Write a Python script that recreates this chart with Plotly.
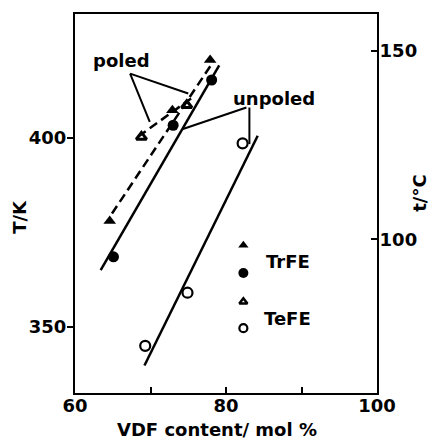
import plotly.graph_objects as go

# ---------------- data ----------------
# VDF content (mol %) and transition temperature T (K)
trfe_poled_x = [64.6, 72.9, 77.9]
trfe_poled_T = [378.0, 407.4, 420.7]
trfe_unpoled_x = [65.1, 73.0, 78.1]
trfe_unpoled_T = [368.5, 403.4, 415.4]
tefe_poled_x = [68.8, 74.8]
tefe_poled_T = [400.3, 408.7]
tefe_unpoled_x = [69.3, 74.9, 82.2]
tefe_unpoled_T = [344.9, 359.0, 398.6]

# drawn fit lines (end points)
fit_trfe_unpoled_x = [63.4, 79.1]
fit_trfe_unpoled_T = [365.0, 419.3]
fit_trfe_poled_x = [64.9, 78.3]
fit_trfe_poled_T = [380.0, 420.2]
fit_tefe_poled_x = [68.4, 75.5]
fit_tefe_poled_T = [400.4, 410.7]
fit_tefe_unpoled_x = [69.2, 84.2]
fit_tefe_unpoled_T = [339.7, 400.6]

# legend keys
legend_x = [82.3]
legend_T = {"trfe_poled": 371.6, "trfe_unpoled": 364.2,
            "tefe_poled": 356.6, "tefe_unpoled": 349.6}

x_ticks = [60, 70, 80, 90, 100]
x_ticktext = ["60", "", "80", "", "100"]
T_ticks = [350, 400]
t_ticks = [100, 150]

x_range = [60, 100]
T_range = [332.4, 432.9]
K0 = 273.15

FONT = dict(family="DejaVu Sans", size=18, color="black", weight="bold")
LW = 2.5

fig = go.Figure()

def line(x, y, dash="solid"):
    fig.add_trace(go.Scatter(x=x, y=y, mode="lines",
                             line=dict(color="black", width=LW, dash=dash),
                             showlegend=False, hoverinfo="skip"))

line(fit_trfe_unpoled_x, fit_trfe_unpoled_T)
line(fit_tefe_unpoled_x, fit_tefe_unpoled_T)
line(fit_trfe_poled_x, fit_trfe_poled_T, dash="9px,5px")
line(fit_tefe_poled_x, fit_tefe_poled_T, dash="9px,5px")

def pts(x, y, symbol, size, lw=0):
    fig.add_trace(go.Scatter(x=x, y=y, mode="markers",
                             marker=dict(symbol=symbol, size=size, color="black",
                                         line=dict(color="black", width=lw)),
                             showlegend=False))

pts(trfe_poled_x, trfe_poled_T, "triangle-up", 11)
pts(trfe_unpoled_x, trfe_unpoled_T, "circle", 11)
pts(tefe_poled_x, tefe_poled_T, "triangle-up-open", 9, 3)
pts(tefe_unpoled_x, tefe_unpoled_T, "circle-open", 10, 2.2)

# legend keys
pts(legend_x, [legend_T["trfe_poled"]], "triangle-up", 9)
pts(legend_x, [legend_T["trfe_unpoled"]], "circle", 10)
pts(legend_x, [legend_T["tefe_poled"]], "triangle-up-open", 7, 2.5)
pts(legend_x, [legend_T["tefe_unpoled"]], "circle-open", 8, 2.2)

# activate right axis (Celsius)
fig.add_trace(go.Scatter(x=[None], y=[None], yaxis="y2", showlegend=False))

# leader lines for labels
leaders = [
    ((67.3, 417.1), (69.9, 404.3)),
    ((67.3, 417.1), (75.0, 411.8)),
    ((82.7, 408.1), (74.3, 402.4)),
    ((83.1, 408.1), (83.1, 398.4)),
]
for (x0, y0), (x1, y1) in leaders:
    fig.add_shape(type="line", x0=x0, y0=y0, x1=x1, y1=y1, xref="x", yref="y",
                  line=dict(color="black", width=2))

annots = [
    dict(x=66.2, y=420.5, text="poled"),
    dict(x=86.3, y=410.5, text="unpoled"),
    dict(x=88.15, y=367.4, text="TrFE"),
    dict(x=88.15, y=352.2, text="TeFE"),
]
for a in annots:
    fig.add_annotation(x=a["x"], y=a["y"], text=a["text"], xref="x", yref="y",
                       showarrow=False, font=FONT, xanchor="center", yanchor="middle")

# axis titles
fig.add_annotation(x=-0.182, y=0.465, xref="paper", yref="paper", text="T/K",
                   textangle=-90, showarrow=False, font=FONT,
                   xanchor="center", yanchor="middle")
fig.add_annotation(x=1.142, y=0.528, xref="paper", yref="paper", text="t/°C",
                   textangle=-90, showarrow=False, font=FONT,
                   xanchor="center", yanchor="middle")
fig.add_annotation(x=0.469, y=-0.095, xref="paper", yref="paper",
                   text="VDF content/ mol %", showarrow=False, font=FONT,
                   xanchor="center", yanchor="middle")

axis_common = dict(showgrid=False, zeroline=False, showline=True, linecolor="black",
                   linewidth=2, tickcolor="black", tickwidth=2, ticklen=6,
                   tickfont=FONT)

fig.update_layout(
    width=431, height=440,
    margin=dict(l=75, r=54, t=14, b=47),
    paper_bgcolor="white", plot_bgcolor="white",
    showlegend=False,
    xaxis=dict(range=x_range, tickvals=x_ticks, ticktext=x_ticktext,
               ticks="inside", mirror=True, ticklabelstandoff=-5, **axis_common),
    yaxis=dict(range=T_range, tickvals=T_ticks, ticks="outside",
               ticklabelstandoff=-3, **axis_common),
    yaxis2=dict(range=[T_range[0] - K0, T_range[1] - K0], tickvals=t_ticks,
                overlaying="y", side="right", ticks="inside",
                ticklabelstandoff=-3, **axis_common),
)

fig.write_html("out.html")
